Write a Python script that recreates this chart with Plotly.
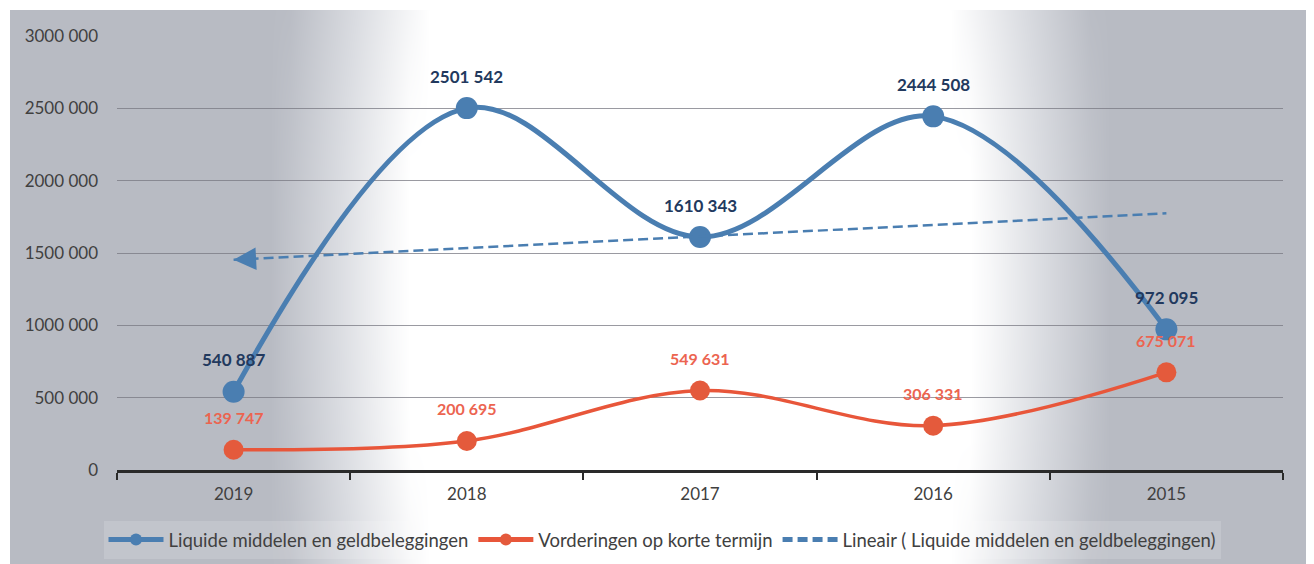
import numpy as np
import plotly.graph_objects as go

# ---- data ----
years = ["2019", "2018", "2017", "2016", "2015"]
liquide = [540887, 2501542, 1610343, 2444508, 972095]
vorderingen = [139747, 200695, 549631, 306331, 675071]
trend_y = [1453000, 1775000]  # trendline values at first / last year
liquide_labels = ["540 887", "2501 542", "1610 343", "2444 508", "972 095"]
vorderingen_labels = ["139 747", "200 695", "549 631", "306 331", "675 071"]
y_tickvals = [0, 500000, 1000000, 1500000, 2000000, 2500000, 3000000]
y_ticktext = ["0", "500 000", "1000 000", "1500 000", "2000 000", "2500 000", "3000 000"]

# page shows the figure offset by the 8px body margin
VW, VH = 1314, 564
OFF = 8
W, H = VW - OFF, VH - OFF
FONT = "Lato"
BLUE = "#4a7eb1"
RED = "#e8563a"


def fx(v):  # viewport x pixel -> paper fraction
    return (v - OFF) / W


def fy(v):  # viewport y pixel -> paper fraction (from bottom)
    return (VH - v) / H


xpos = list(range(len(years)))
trend_x = [xpos[0], xpos[-1]]
bounds = [i - 0.5 for i in range(len(years) + 1)]

# ---- background radial gradient (styling only) ----
xe = np.linspace(-20, 1340, 69)
ye = np.linspace(-20, 590, 31)
xc = (xe[:-1] + xe[1:]) / 2
yc = (ye[:-1] + ye[1:]) / 2
XX, YY = np.meshgrid(xc, yc)
d = np.sqrt(((XX - 690) / 1.0) ** 2 + ((YY - 300) * 0.4) ** 2)
z = np.clip((d - 285) / 135, 0, 1)

fig = go.Figure()
fig.add_trace(go.Heatmap(
    x=xe, y=ye, z=z, xaxis="x", yaxis="y", zmin=0, zmax=1, zsmooth="best",
    colorscale=[[0, "#ffffff"], [0.5, "#dadce1"], [1, "#b8bbc3"]],
    showscale=False, hoverinfo="skip", showlegend=False))

fig.add_trace(go.Scatter(
    x=xpos, y=liquide, name="Liquide middelen en geldbeleggingen",
    mode="lines+markers", line=dict(color=BLUE, width=5, shape="spline", smoothing=1.0),
    marker=dict(color=BLUE, size=22), xaxis="x2", yaxis="y2"))
fig.add_trace(go.Scatter(
    x=xpos, y=vorderingen, name="Vorderingen op korte termijn",
    mode="lines+markers", line=dict(color=RED, width=3.5, shape="spline", smoothing=1.0),
    marker=dict(color="#e45a3c", size=20), xaxis="x2", yaxis="y2"))
fig.add_trace(go.Scatter(
    x=trend_x, y=trend_y, name="Lineair ( Liquide middelen en geldbeleggingen)",
    mode="lines", line=dict(color=BLUE, width=2.5, dash="10px,5px"),
    xaxis="x2", yaxis="y2"))

annotations = []
for i, (v, t) in enumerate(zip(liquide, liquide_labels)):
    annotations.append(dict(x=xpos[i], y=v, xref="x2", yref="y2", text="<b>%s</b>" % t,
                            showarrow=False, yshift=32,
                            font=dict(family=FONT, size=17, color="#22395e")))
for i, (v, t) in enumerate(zip(vorderingen, vorderingen_labels)):
    annotations.append(dict(x=xpos[i], y=v, xref="x2", yref="y2", text="<b>%s</b>" % t,
                            showarrow=False, yshift=32,
                            font=dict(family=FONT, size=16, color="#ec6450")))
# arrow head of trendline
annotations.append(dict(x=trend_x[0], y=trend_y[0], xref="x2", yref="y2",
                        ax=trend_x[0] + 0.09,
                        ay=trend_y[0] + 0.09 * (trend_y[1] - trend_y[0]) / (trend_x[1] - trend_x[0]),
                        axref="x2", ayref="y2", text="", showarrow=True,
                        arrowhead=2, arrowsize=1.8, arrowwidth=2.5, arrowcolor=BLUE))

shapes = [
    dict(type="rect", xref="paper", yref="paper", x0=0, x1=fx(10), y0=0, y1=1,
         fillcolor="white", line=dict(width=0), layer="above"),
    dict(type="rect", xref="paper", yref="paper", x0=fx(1306), x1=1, y0=0, y1=1,
         fillcolor="white", line=dict(width=0), layer="above"),
    dict(type="rect", xref="paper", yref="paper", x0=0, x1=1, y0=fy(10), y1=1,
         fillcolor="white", line=dict(width=0), layer="above"),
]

fig.update_layout(
    width=W, height=H, margin=dict(l=0, r=0, t=0, b=0, pad=0, autoexpand=False),
    paper_bgcolor="white", plot_bgcolor="rgba(0,0,0,0)",
    font=dict(family=FONT, size=17, color="#404040"),
    xaxis=dict(domain=[0, 1], range=[OFF, VW], visible=False, fixedrange=True, automargin=False),
    yaxis=dict(domain=[0, 1], range=[VH, OFF], visible=False, fixedrange=True, automargin=False),
    xaxis2=dict(domain=[fx(117), fx(1283)], anchor="y2", range=[-0.5, len(years) - 0.5],
                tickvals=xpos, ticktext=years, showgrid=False, zeroline=False,
                showline=True, linecolor="#2a2a2a", linewidth=2.5, automargin=False,
                ticks="", ticklabelstandoff=7,
                minor=dict(tickvals=bounds, ticks="outside", ticklen=7, tickwidth=2,
                           tickcolor="#2a2a2a", showgrid=False),
                tickfont=dict(family=FONT, size=17, color="#404040")),
    yaxis2=dict(domain=[fy(470), fy(36)], anchor="x2", range=[0, 3000000],
                tickvals=y_tickvals, ticktext=y_ticktext, showline=False, automargin=False,
                showgrid=True, gridcolor="rgba(120,120,130,0.75)", gridwidth=1,
                zeroline=False, ticks="", ticklabelstandoff=18,
                tickfont=dict(family=FONT, size=17, color="#404040")),
    legend=dict(orientation="h", x=fx(662), xanchor="center", y=fy(540), yanchor="middle",
                bgcolor="rgba(255,255,255,0.15)", font=dict(family=FONT, size=18.5, color="#404040"),
                itemsizing="constant", itemwidth=55, tracegroupgap=0),
    annotations=annotations, shapes=shapes, showlegend=True,
)

fig.write_html("out.html")
